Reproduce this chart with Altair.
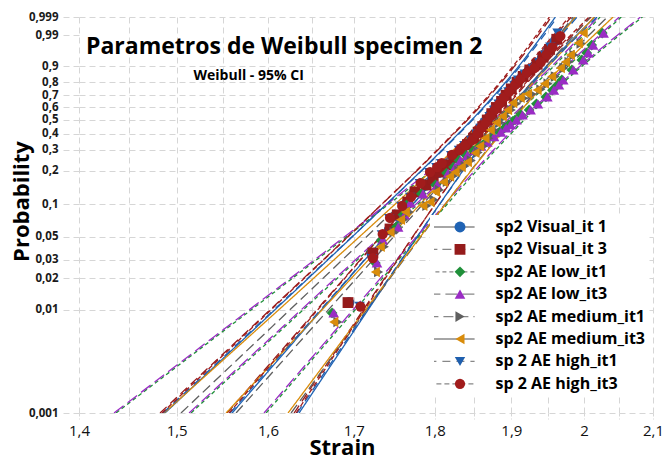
import altair as alt
import numpy as np
import pandas as pd

# ---------------- data ----------------
SERIES = ["sp2 Visual_it 1", "sp2 Visual_it 3", "sp2 AE low_it1", "sp2 AE low_it3",
          "sp2 AE medium_it1", "sp2 AE medium_it3", "sp 2 AE high_it1", "sp 2 AE high_it3"]

# fitted lines: strain at p = 0.001 and p = 0.999
FIT_PROB = [0.001, 0.999]
FIT_V1 = [1.5599, 1.9877]
FIT_V3 = [1.5544, 1.9821]
FIT_L1 = [1.5153, 2.0534]
FIT_L3 = [1.5132, 2.0505]
FIT_M1 = [1.5643, 2.0089]
FIT_M3 = [1.5533, 2.0146]
FIT_H1 = [1.5577, 1.9905]
FIT_H3 = [1.5566, 1.9793]

# 95% confidence bounds: strain at these probabilities
CI_PROB = [0.001, 0.005, 0.02, 0.08, 0.3, 0.632, 0.9, 0.999]
LOW_V1 = [1.4877, 1.5707, 1.6461, 1.7259, 1.8097, 1.8675, 1.9100, 1.9601]
UPP_V1 = [1.6355, 1.6922, 1.7430, 1.7968, 1.8558, 1.9030, 1.9478, 2.0158]
LOW_V3 = [1.4825, 1.5654, 1.6406, 1.7204, 1.8042, 1.8620, 1.9043, 1.9546]
UPP_V3 = [1.6297, 1.6864, 1.7372, 1.7911, 1.8502, 1.8973, 1.9421, 2.0101]
LOW_L1 = [1.4371, 1.5364, 1.6277, 1.7255, 1.8300, 1.9033, 1.9578, 2.0229]
UPP_L1 = [1.5978, 1.6696, 1.7346, 1.8038, 1.8793, 1.9397, 1.9972, 2.0844]
LOW_L3 = [1.4351, 1.5343, 1.6254, 1.7231, 1.8274, 1.9007, 1.9550, 2.0200]
UPP_L3 = [1.5955, 1.6672, 1.7321, 1.8012, 1.8766, 1.9370, 1.9944, 2.0815]
LOW_M1 = [1.5046, 1.5878, 1.6633, 1.7430, 1.8270, 1.8857, 1.9302, 1.9848]
UPP_M1 = [1.6263, 1.6882, 1.7439, 1.8032, 1.8678, 1.9185, 1.9648, 2.0334]
LOW_M3 = [1.4867, 1.5735, 1.6522, 1.7359, 1.8242, 1.8855, 1.9317, 1.9879]
UPP_M3 = [1.6228, 1.6859, 1.7427, 1.8029, 1.8688, 1.9211, 1.9697, 2.0417]
LOW_H1 = [1.4856, 1.5694, 1.6452, 1.7259, 1.8106, 1.8689, 1.9120, 1.9629]
UPP_H1 = [1.6332, 1.6907, 1.7422, 1.7968, 1.8567, 1.9044, 1.9499, 2.0186]
LOW_H3 = [1.4846, 1.5668, 1.6414, 1.7204, 1.8033, 1.8604, 1.9023, 1.9518]
UPP_H3 = [1.6320, 1.6880, 1.7381, 1.7911, 1.8492, 1.8957, 1.9400, 2.0072]

# plotted observations (strain, probability)
PS_V1 = [1.694, 1.722, 1.743, 1.752, 1.765, 1.774, 1.788, 1.797, 1.805, 1.814, 1.824, 1.834, 1.841, 1.849, 1.855,
         1.861, 1.867, 1.873, 1.879, 1.886, 1.892, 1.899, 1.907, 1.915, 1.924, 1.934, 1.942, 1.951, 1.960]
PP_V1 = [0.0117, 0.034, 0.058, 0.079, 0.104, 0.128, 0.149, 0.169, 0.193, 0.223, 0.258, 0.298, 0.328, 0.368, 0.408,
         0.448, 0.498, 0.548, 0.598, 0.648, 0.698, 0.748, 0.798, 0.838, 0.878, 0.908, 0.938, 0.963, 0.983]
PS_V3 = [1.693, 1.723, 1.744, 1.753, 1.766, 1.775, 1.789, 1.798, 1.806, 1.815, 1.825, 1.835, 1.842, 1.850, 1.856,
         1.862, 1.868, 1.874, 1.880, 1.887, 1.893, 1.900, 1.908, 1.916, 1.925, 1.935, 1.943, 1.952, 1.962]
PP_V3 = [0.0117, 0.035, 0.059, 0.080, 0.105, 0.130, 0.150, 0.170, 0.195, 0.225, 0.26, 0.30, 0.33, 0.37, 0.41,
         0.45, 0.50, 0.55, 0.60, 0.65, 0.70, 0.75, 0.80, 0.84, 0.88, 0.91, 0.94, 0.965, 0.985]
PS_L1 = [1.674, 1.726, 1.733, 1.752, 1.760, 1.767, 1.783, 1.801, 1.815, 1.824, 1.831, 1.840, 1.850, 1.858, 1.866,
         1.875, 1.884, 1.891, 1.897, 1.905, 1.913, 1.924, 1.934, 1.947, 1.956, 1.963, 1.969, 1.983, 1.997, 2.004,
         2.011, 2.026]
PP_L1 = [0.0093, 0.028, 0.046, 0.062, 0.080, 0.103, 0.125, 0.150, 0.191, 0.215, 0.245, 0.27, 0.295, 0.32, 0.345,
         0.38, 0.41, 0.44, 0.465, 0.50, 0.54, 0.58, 0.63, 0.686, 0.74, 0.78, 0.816, 0.88, 0.929, 0.955, 0.975, 0.992]
PS_L3 = [1.676, 1.728, 1.735, 1.754, 1.762, 1.769, 1.785, 1.803, 1.817, 1.826, 1.833, 1.842, 1.852, 1.860, 1.868,
         1.877, 1.886, 1.893, 1.899, 1.907, 1.915, 1.926, 1.936, 1.949, 1.958, 1.965, 1.971, 1.985, 1.999, 2.006,
         2.013, 2.028]
PP_L3 = [0.0093, 0.0281, 0.0465, 0.0616, 0.080, 0.103, 0.125, 0.150, 0.191, 0.215, 0.245, 0.27, 0.295, 0.32, 0.345,
         0.38, 0.41, 0.44, 0.465, 0.50, 0.54, 0.58, 0.63, 0.686, 0.74, 0.78, 0.816, 0.88, 0.929, 0.955, 0.975, 0.992]
PS_M1 = [1.681, 1.730, 1.737, 1.749, 1.761, 1.768, 1.790, 1.799, 1.806, 1.816, 1.824, 1.831, 1.839, 1.847, 1.856,
         1.863, 1.870, 1.877, 1.885, 1.893, 1.900, 1.907, 1.917, 1.928, 1.940, 1.950, 1.960, 1.972, 1.979, 1.986, 1.996]
PP_M1 = [0.0076, 0.023, 0.040, 0.055, 0.072, 0.085, 0.097, 0.110, 0.135, 0.160, 0.180, 0.200, 0.22, 0.245, 0.285,
         0.32, 0.37, 0.425, 0.48, 0.53, 0.58, 0.63, 0.675, 0.71, 0.745, 0.79, 0.84, 0.89, 0.92, 0.948, 0.978]
PS_M3 = [1.676, 1.726, 1.732, 1.744, 1.757, 1.763, 1.785, 1.794, 1.801, 1.811, 1.819, 1.826, 1.834, 1.842, 1.852,
         1.858, 1.865, 1.872, 1.880, 1.888, 1.895, 1.902, 1.912, 1.922, 1.935, 1.945, 1.955, 1.967, 1.974, 1.981,
         1.992, 1.999]
PP_M3 = [0.0076, 0.023, 0.040, 0.055, 0.072, 0.085, 0.097, 0.105, 0.130, 0.159, 0.178, 0.195, 0.215, 0.238, 0.283,
         0.32, 0.37, 0.425, 0.48, 0.53, 0.58, 0.637, 0.68, 0.71, 0.742, 0.79, 0.84, 0.891, 0.92, 0.948, 0.979, 0.992]
PS_H1 = [1.707, 1.722, 1.734, 1.743, 1.758, 1.769, 1.781, 1.793, 1.802, 1.808, 1.821, 1.831, 1.838, 1.847, 1.854,
         1.859, 1.865, 1.871, 1.877, 1.883, 1.889, 1.896, 1.904, 1.909, 1.918, 1.929, 1.938, 1.946, 1.953, 1.963]
PP_H1 = [0.0108, 0.031, 0.052, 0.074, 0.096, 0.116, 0.155, 0.193, 0.213, 0.231, 0.270, 0.298, 0.325, 0.356, 0.398,
         0.438, 0.478, 0.528, 0.578, 0.628, 0.678, 0.728, 0.778, 0.816, 0.855, 0.888, 0.918, 0.948, 0.971, 0.992]
PS_H3 = [1.708, 1.723, 1.735, 1.744, 1.759, 1.770, 1.782, 1.794, 1.803, 1.809, 1.822, 1.832, 1.839, 1.848, 1.855,
         1.860, 1.866, 1.872, 1.878, 1.884, 1.890, 1.897, 1.905, 1.912, 1.921, 1.931, 1.940, 1.948, 1.956, 1.967]
PP_H3 = [0.0107, 0.0313, 0.0529, 0.0749, 0.0967, 0.117, 0.156, 0.195, 0.215, 0.233, 0.272, 0.30, 0.327, 0.358, 0.40,
         0.44, 0.48, 0.53, 0.58, 0.63, 0.68, 0.73, 0.78, 0.82, 0.862, 0.89, 0.92, 0.95, 0.97, 0.989]

PROB_TICKS = [0.001, 0.01, 0.02, 0.03, 0.05, 0.1, 0.2, 0.3, 0.4, 0.5, 0.6, 0.7, 0.8, 0.9, 0.99, 0.999]
STRAIN_TICKS = [1.4, 1.45, 1.5, 1.55, 1.6, 1.65, 1.7, 1.75, 1.8, 1.85, 1.9, 1.95, 2.0, 2.05, 2.1]

TITLE = "Parametros de Weibull  specimen 2"
SUBTITLE = "Weibull - 95% CI"

# ---------------- styles ----------------
COLORS = ["#1f63b4", "#951b1b", "#20903a", "#9a2cc4", "#5f5f5f", "#d98c0b", "#1f5fae", "#a11c1c"]
DASHES = [[1, 0], [9, 5], [4, 3], [12, 5], [10, 5], [1, 0], [8, 6], [5, 3]]
SHAPES = ["circle", "square", "diamond", "triangle-up", "triangle-right", "triangle-left", "triangle-down", "circle"]
SIZES = [120, 105, 130, 170, 170, 170, 170, 120]
FONT = "Open Sans"
GRID = "#d6d6d6"


def weib(p):
    """Weibull probability-paper transform of the y axis."""
    return np.log(-np.log(1.0 - np.asarray(p, dtype=float)))


FITS = [FIT_V1, FIT_V3, FIT_L1, FIT_L3, FIT_M1, FIT_M3, FIT_H1, FIT_H3]
LOWS = [LOW_V1, LOW_V3, LOW_L1, LOW_L3, LOW_M1, LOW_M3, LOW_H1, LOW_H3]
UPPS = [UPP_V1, UPP_V3, UPP_L1, UPP_L3, UPP_M1, UPP_M3, UPP_H1, UPP_H3]
PSS = [PS_V1, PS_V3, PS_L1, PS_L3, PS_M1, PS_M3, PS_H1, PS_H3]
PPS = [PP_V1, PP_V3, PP_L1, PP_L3, PP_M1, PP_M3, PP_H1, PP_H3]

line_rows = []
for i, name in enumerate(SERIES):
    for curve, probs, vals in (("fit", FIT_PROB, FITS[i]), ("lower", CI_PROB, LOWS[i]), ("upper", CI_PROB, UPPS[i])):
        for p, s in zip(probs, vals):
            line_rows.append({"series": name, "curve": f"{i}-{curve}", "strain": s, "prob": p})
lines_df = pd.DataFrame(line_rows)
lines_df["w"] = weib(lines_df["prob"])

pt_rows = []
z = 0
for i, name in enumerate(SERIES):
    for s, p in zip(PSS[i], PPS[i]):
        pt_rows.append({"series": name, "strain": s, "prob": p, "z": z})
        z += 1
pts_df = pd.DataFrame(pt_rows)
pts_df["w"] = weib(pts_df["prob"])

W_TICKS = [float(v) for v in weib(PROB_TICKS)]
W_DOMAIN = [W_TICKS[0], W_TICKS[-1]]
W_099 = float(weib([0.99])[0])

x_scale = alt.Scale(type="log", domain=[1.4, 2.1], nice=False)
x_bottom = alt.X(
    "strain:Q", scale=x_scale,
    axis=alt.Axis(
        orient="bottom", values=STRAIN_TICKS, grid=True, gridColor=GRID, gridDash=[6, 4], gridWidth=1,
        domain=False, tickColor=GRID, tickSize=6, tickDash=[3, 2],
        labelExpr="abs(datum.value*10 - round(datum.value*10)) < 0.01 ? replace(format(datum.value, '.1~f'), '.', ',') : ''",
        labelOverlap=False, labelFlush=False, labelFont=FONT, labelFontSize=15, labelColor="#111111",
        labelPadding=4,
        title="Strain", titleFont=FONT, titleFontSize=22, titleFontWeight="bold", titleColor="black",
        titleX=263, titleY=41, titleBaseline="alphabetic", titleAlign="center",
    ),
)
# second x axis (top, no ticks/labels) only carries the sub-heading inside the plot
x_top = alt.X(
    "strain:Q", scale=x_scale,
    axis=alt.Axis(
        orient="top", grid=False, domain=False, ticks=False, labels=False,
        title=SUBTITLE, titleFont=FONT, titleFontSize=14, titleFontWeight="bold", titleColor="black",
        titleX=114, titleY=62, titleAlign="left", titleBaseline="alphabetic", titleAngle=0,
    ),
)
y_enc = alt.Y(
    "w:Q",
    scale=alt.Scale(domain=W_DOMAIN, nice=False, zero=False),
    axis=alt.Axis(
        values=W_TICKS, grid=True, gridColor=GRID, gridDash=[6, 4], gridWidth=1,
        gridOpacity={"condition": {"test": f"abs(datum.value - {W_099:.5f}) < 0.01", "value": 0}, "value": 1},
        domain=False, tickColor=GRID, tickSize=16, tickDash=[6, 4],
        labelExpr="replace(format(1 - exp(-exp(datum.value)), '.3~f'), '.', ',')",
        labelOverlap=False, labelFlush=False, labelFont=FONT, labelFontSize=11.5, labelFontWeight="bold",
        labelColor="#1a1a1a", labelPadding=5,
        title="Probability", titleFont=FONT, titleFontSize=22, titleFontWeight="bold", titleColor="black",
        titleX=-51, titleY=184, titleBaseline="alphabetic", titleAlign="center", titleAngle=-90,
    ),
)

# Two legends at the same spot: line styles with labels (white box) and the markers on top.
LEG_X, LEG_Y = 351, 198
line_legend = alt.Legend(
    title=None, orient="none", legendX=LEG_X, legendY=LEG_Y, fillColor="white", padding=4,
    symbolType="M-3.3,0H3.3", symbolSize=196, symbolOffset=9.5, labelOffset=36,
    clipHeight=16, rowPadding=6.4, symbolOpacity=1, symbolStrokeWidth=1.3,
    labelFont=FONT, labelFontSize=16, labelFontWeight="bold", labelColor="black", labelLimit=300,
    zindex=1,
)
marker_legend = alt.Legend(
    title=None, orient="none", legendX=LEG_X, legendY=LEG_Y, padding=4,
    symbolSize=115, symbolOffset=18, labelOffset=45, clipHeight=16, rowPadding=6.4, symbolOpacity=1,
    labelFont=FONT, labelFontSize=16, labelExpr="''", labelLimit=300,
    zindex=2,
)

line_layer = alt.Chart(lines_df).mark_line(strokeWidth=1.3, interpolate="monotone", clip=True).encode(
    x=x_bottom, y=y_enc,
    stroke=alt.Stroke("series:N", sort=SERIES, scale=alt.Scale(range=COLORS), legend=line_legend),
    strokeDash=alt.StrokeDash("series:N", sort=SERIES, scale=alt.Scale(range=DASHES), legend=line_legend),
    detail="curve:N",
    order="w:Q",
)

point_layer = alt.Chart(pts_df).mark_point(filled=True, opacity=1, strokeWidth=0, clip=True).encode(
    x=x_top, y=y_enc,
    color=alt.Color("series:N", scale=alt.Scale(domain=SERIES, range=COLORS), legend=marker_legend),
    shape=alt.Shape("series:N", scale=alt.Scale(domain=SERIES, range=SHAPES), legend=marker_legend),
    size=alt.Size("series:N", scale=alt.Scale(domain=SERIES, range=SIZES), legend=None),
    order="z:Q",
)

chart = alt.layer(line_layer, point_layer).resolve_axis(x="independent").properties(
    width=574, height=396,
    padding={"left": 79, "top": 17, "right": 11, "bottom": 42},
    autosize=alt.AutoSizeParams(type="none"),
    background="white",
    title=alt.TitleParams(
        text=TITLE, anchor="start", frame="group", dx=7, offset=-48,
        font=FONT, fontSize=23, fontWeight="bold", color="black",
    ),
).configure_view(stroke=None)

chart.save("out.html", embed_options={"renderer": "svg", "actions": False})
